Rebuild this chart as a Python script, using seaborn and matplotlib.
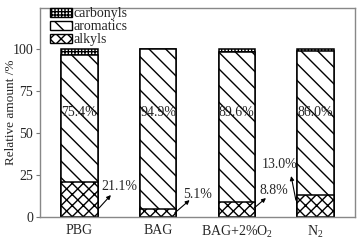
import pandas as pd
import numpy as np
import matplotlib
matplotlib.use("Agg")
import matplotlib.pyplot as plt
from matplotlib.patches import Patch
import seaborn as sns

# Datos
categorias = ["PBG", "BAG", "BAG+2%O$_2$", "N$_2$"]
alkyls = [21.1, 5.1, 8.8, 13.0]
aromatics = [75.4, 94.9, 89.6, 86.0]
carbonyls = [3.5, 0.0, 1.6, 1.0]
etiquetas_arom = ["75.4%", "94.9%", "89.6%", "86.0%"]
etiquetas_alk = ["21.1%", "5.1%", "8.8%", "13.0%"]

# Estilo
sns.set_style("ticks")
plt.rcParams['font.family'] = ['Liberation Serif', 'DejaVu Serif']
plt.rcParams['mathtext.fontset'] = 'custom'
plt.rcParams['mathtext.rm'] = 'Liberation Serif'
plt.rcParams['hatch.linewidth'] = 1.0

df = pd.DataFrame({"cat": categorias, "alkyls": alkyls,
                   "aromatics": aromatics, "carbonyls": carbonyls})
df["nivel2"] = df["alkyls"] + df["aromatics"]
df["nivel3"] = df["nivel2"] + df["carbonyls"]

fig = plt.figure(figsize=(3.64, 2.42), dpi=100)
ax = fig.add_axes([0.110, 0.103, 0.865, 0.864])

h_carb, h_arom, h_alk = "+++++", "\\\\", "xxx"

# Barras apiladas (de la capa superior a la inferior)
capas = [("nivel3", h_carb), ("nivel2", h_arom), ("alkyls", h_alk)]
for col, hatch in capas:
    sns.barplot(data=df, x="cat", y=col, color="white", edgecolor="black",
                linewidth=1.1, hatch=hatch, width=0.46, errorbar=None,
                saturation=1, ax=ax)

# Etiquetas de aromáticos
for i, txt in enumerate(etiquetas_arom):
    ax.text(i, 62, txt, ha="center", va="center", fontsize=10)

# Etiquetas de alquilos con flechas
pos_texto = [(0.51, 17.9), (1.50, 13.7), (2.47, 16.1), (2.54, 31.0)]
punta = [(0.40, 13.1), (1.40, 10.1), (2.37, 11.3), (2.69, 24.4)]
cola = [(0.25, 5.4), (1.21, 2.4), (2.22, 5.4), (2.75, 10.1)]
for txt, pt, h, c in zip(etiquetas_alk, pos_texto, punta, cola):
    ax.text(pt[0], pt[1], txt, ha="center", va="center", fontsize=10)
    ax.annotate("", xy=h, xytext=c,
                arrowprops=dict(arrowstyle="-|>", color="black", lw=0.8,
                                mutation_scale=6, shrinkA=0, shrinkB=0))

ax.set_xlim(-0.5, 3.5)
ax.set_ylim(0, 124.4)
ax.set_yticks([0, 25, 50, 75, 100])
ax.set_xlabel("")
ax.set_ylabel("Relative amount /%", fontsize=9.5)
ax.yaxis.set_label_coords(-0.074, 0.5)
ax.tick_params(axis="x", length=0, labelsize=10, pad=5)
ax.tick_params(axis="y", length=3, labelsize=10, color="#777777", pad=2)
for s in ax.spines.values():
    s.set_color("#888888")
    s.set_linewidth(1.0)

handles = [Patch(facecolor="white", edgecolor="black", hatch=h_carb, label="carbonyls"),
           Patch(facecolor="white", edgecolor="black", hatch=h_arom, label="aromatics"),
           Patch(facecolor="white", edgecolor="black", hatch=h_alk, label="alkyls")]
ax.legend(handles=handles, loc="upper left", frameon=False, fontsize=10,
          bbox_to_anchor=(0.0, 1.05), handlelength=1.6, handleheight=0.7,
          handletextpad=0.1, labelspacing=0.0, borderaxespad=0.3)

fig.savefig("out.png", dpi=100)
